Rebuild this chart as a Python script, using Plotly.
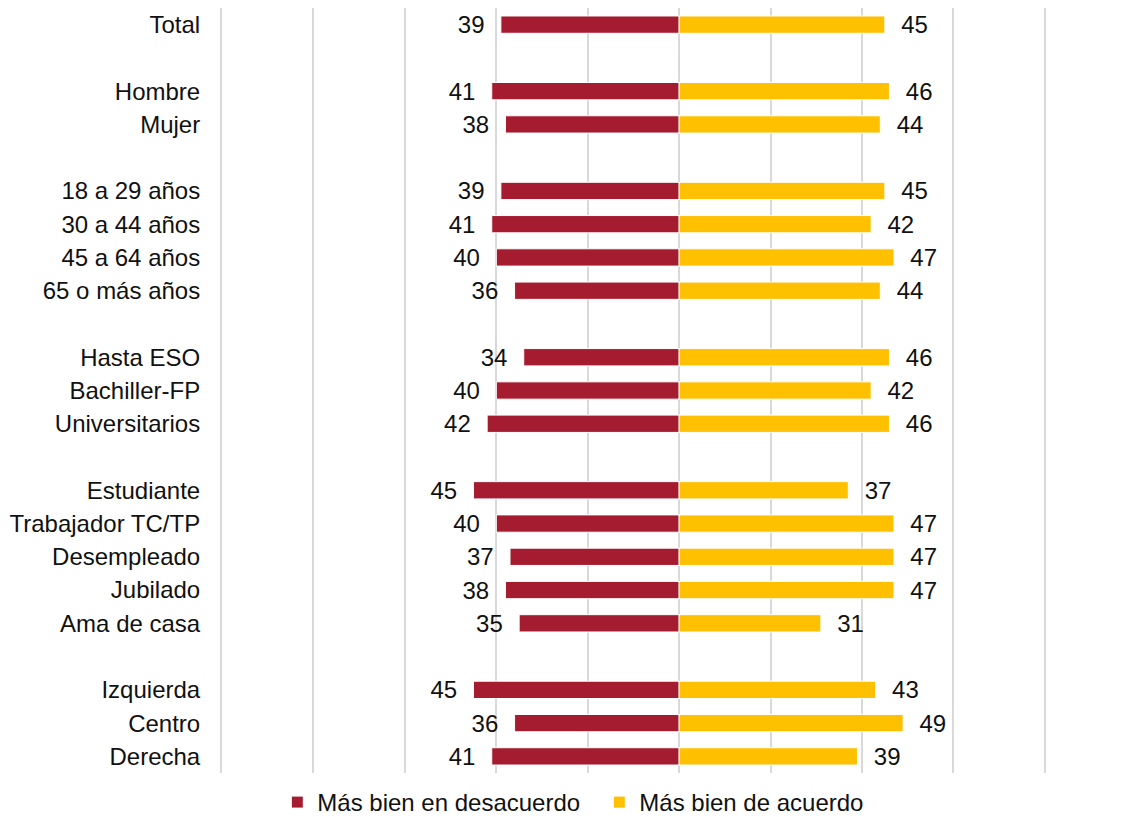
import plotly.graph_objects as go

# groups of rows, a blank row is left between groups
groups = [
    ["Total"],
    ["Hombre", "Mujer"],
    ["18 a 29 años", "30 a 44 años", "45 a 64 años", "65 o más años"],
    ["Hasta ESO", "Bachiller-FP", "Universitarios"],
    ["Estudiante", "Trabajador TC/TP", "Desempleado", "Jubilado", "Ama de casa"],
    ["Izquierda", "Centro", "Derecha"],
]
desacuerdo = [39, 41, 38, 39, 41, 40, 36, 34, 40, 42, 45, 40, 37, 38, 35, 45, 36, 41]
acuerdo = [45, 46, 44, 45, 42, 47, 44, 46, 42, 46, 37, 47, 47, 47, 31, 43, 49, 39]

RED = "#A51B2F"
YELLOW = "#FFC000"
GRID = "#D9D9D9"
FONT = "Liberation Sans, Arial, sans-serif"
FS = 24

# row positions on the y axis
labels, rows = [], []
pos = 0
for g in groups:
    for name in g:
        labels.append(name)
        rows.append(pos)
        pos += 1
    pos += 1
last = rows[-1]

pad = "\u00a0\u00a0"
fig = go.Figure()
fig.add_trace(go.Bar(
    y=rows, x=[-v for v in desacuerdo], orientation="h",
    name="Más bien en desacuerdo", marker_color=RED,
    marker_line=dict(color="white", width=1),
    text=[f"{v}{pad}" for v in desacuerdo], textposition="outside",
    textfont=dict(size=FS, color="#111"), cliponaxis=False, width=0.52,
))
fig.add_trace(go.Bar(
    y=rows, x=acuerdo, orientation="h",
    name="Más bien de acuerdo", marker_color=YELLOW,
    marker_line=dict(color="white", width=1),
    text=[f"{pad}{v}" for v in acuerdo], textposition="outside",
    textfont=dict(size=FS, color="#111"), cliponaxis=False, width=0.52,
))

# the page body adds an 8px margin, so the margins here are 8px smaller
fig.update_layout(
    width=1129, height=817,
    barmode="relative",
    plot_bgcolor="white", paper_bgcolor="white",
    font=dict(family=FONT, size=FS, color="#111"),
    margin=dict(l=214, r=8, t=0, b=45),
    showlegend=True,
    legend=dict(orientation="h", x=0.416, xanchor="center", y=-0.0095, yanchor="top",
                font=dict(size=FS), traceorder="normal", itemwidth=30,
                entrywidth=277, entrywidthmode="pixels"),
    uniformtext=dict(minsize=FS, mode="show"),
)
fig.update_xaxes(range=[-100, 98.4], dtick=20, showgrid=True, gridcolor=GRID,
                 gridwidth=2, showticklabels=False, zeroline=False, fixedrange=True,
                 automargin=False)
fig.update_yaxes(tickvals=rows, ticktext=labels, range=[last + 0.5, -0.5],
                 showgrid=False, zeroline=False, ticks="", ticklabelstandoff=15,
                 tickfont=dict(size=FS), automargin=False,
                 showline=True, linecolor=GRID, linewidth=2)

fig.write_html("out.html")
